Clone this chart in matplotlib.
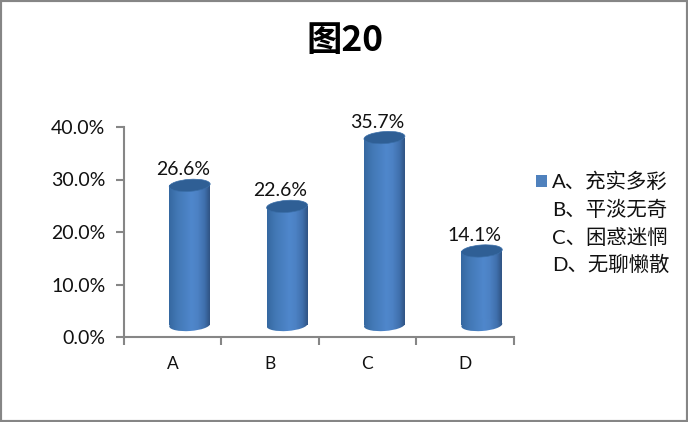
"""
Cylinder column chart, figure 20.
"""
import numpy as np
import matplotlib.pyplot as plt
from matplotlib.patches import Ellipse, Patch, Rectangle
from matplotlib.transforms import IdentityTransform

plt.rcParams['font.family'] = ['Lato', 'Noto Sans CJK SC', 'DejaVu Sans']

### DATA ###
categories = ['A', 'B', 'C', 'D']
values = [26.6, 22.6, 35.7, 14.1]
yticks = [0, 10, 20, 30, 40]
legend_labels = ['A、充实多彩', 'B、平淡无奇', 'C、困惑迷惘', 'D、无聊懒散']

W, H = 688, 422
fig = plt.figure(figsize=(W / 100, H / 100), dpi=100)
ax = fig.add_axes([124 / W, 1 - 337 / H, (513.5 - 124) / W, 210 / H])

gray = '#868686'
for s in ['top', 'right']:
    ax.spines[s].set_visible(False)
for s in ['left', 'bottom']:
    ax.spines[s].set_color(gray)
    ax.spines[s].set_linewidth(1.5)

x = np.arange(len(categories))

# gradient across the cylinder
stops = np.array([[0.21, 0.41, 0.63], [0.26, 0.47, 0.71], [0.31, 0.53, 0.80],
                  [0.30, 0.51, 0.77], [0.25, 0.44, 0.68], [0.19, 0.33, 0.52]])
pos = [0, 0.2, 0.55, 0.7, 0.87, 1]
grad = np.stack([np.interp(np.linspace(0, 1, 64), pos, stops[:, i]) for i in range(3)], axis=-1)[None, :, :]

bar_w = 41       # px
ell_h = 12       # px
dx, dy = 17, 12  # 3d offset in px
tilt = 4
to_px = ax.transData
ax.set_xlim(-0.5, 3.5)
ax.set_ylim(0, 40)

for xi, v in zip(x, values):
    cx, y0 = to_px.transform((xi, 0)) + np.array([dx, dy])
    _, y1 = to_px.transform((xi, v)) + np.array([dx, dy])
    body = Rectangle((cx - bar_w / 2, y0), bar_w, y1 - y0, transform=IdentityTransform())
    bottom = Ellipse((cx, y0), bar_w, ell_h, angle=tilt, transform=IdentityTransform())
    inv = ax.transData.inverted()
    (ex0, ey0), (ex1, ey1) = inv.transform([(cx - bar_w / 2, y0), (cx + bar_w / 2, y1)])
    for clip in (body, bottom):
        im = ax.imshow(grad, extent=[ex0, ex1, -5, 45], aspect='auto', zorder=2, clip_on=True)
        ax.add_artist(clip)
        clip.set_visible(False)
        im.set_clip_path(clip)
    ax.add_patch(Ellipse((cx, y1), bar_w, ell_h, angle=tilt, facecolor='#2f5f95',
                         edgecolor='#3a6ea8', linewidth=0.5, transform=IdentityTransform(), zorder=3))
    ax.annotate('{:.1f}%'.format(v), xy=(cx - 7, y1 + 7), xycoords='figure pixels',
                ha='center', va='bottom', fontsize=14, color='#111111', zorder=4,
                annotation_clip=False)

ax.set_xlim(-0.5, 3.5)
ax.set_ylim(0, 40)
ax.set_xticks(np.arange(-0.5, 4))
ax.set_xticklabels([])
ax.set_xticks(x, labels=categories, minor=True)
ax.tick_params(axis='x', which='major', color=gray, width=1.5, length=6)
ax.tick_params(axis='x', which='minor', length=0, labelsize=12.5, pad=14, colors='#111111')
ax.set_yticks(yticks)
ax.set_yticklabels(['{:.1f}%'.format(t) for t in yticks], fontsize=14, color='#111111')
ax.tick_params(axis='y', color=gray, width=1.5, length=6, pad=7.5)

fig.text(345 / W, 1 - 41 / H, '图20', ha='center', va='center', fontsize=25.5,
         fontweight='bold', family=['Noto Sans CJK SC', 'DejaVu Sans'], color='black')

handles = [Patch(facecolor='#4f81bd')] + [Patch(facecolor='none', edgecolor='none')] * 3
fig.legend(handles, legend_labels, loc='center left', bbox_to_anchor=(536 / W, 1 - 223 / H),
           frameon=False, handlelength=0.55, handleheight=0.55, handletextpad=0.25,
           labelspacing=0.42, labelcolor='#111111', borderpad=0, borderaxespad=0,
           prop={'family': ['Lato', 'Noto Sans CJK SC', 'DejaVu Sans'], 'size': 14.7})

fig.add_artist(Rectangle((0, 0), 1, 1, transform=fig.transFigure, fill=False,
                         edgecolor=gray, linewidth=3))
plt.savefig('out.png', dpi=100)
